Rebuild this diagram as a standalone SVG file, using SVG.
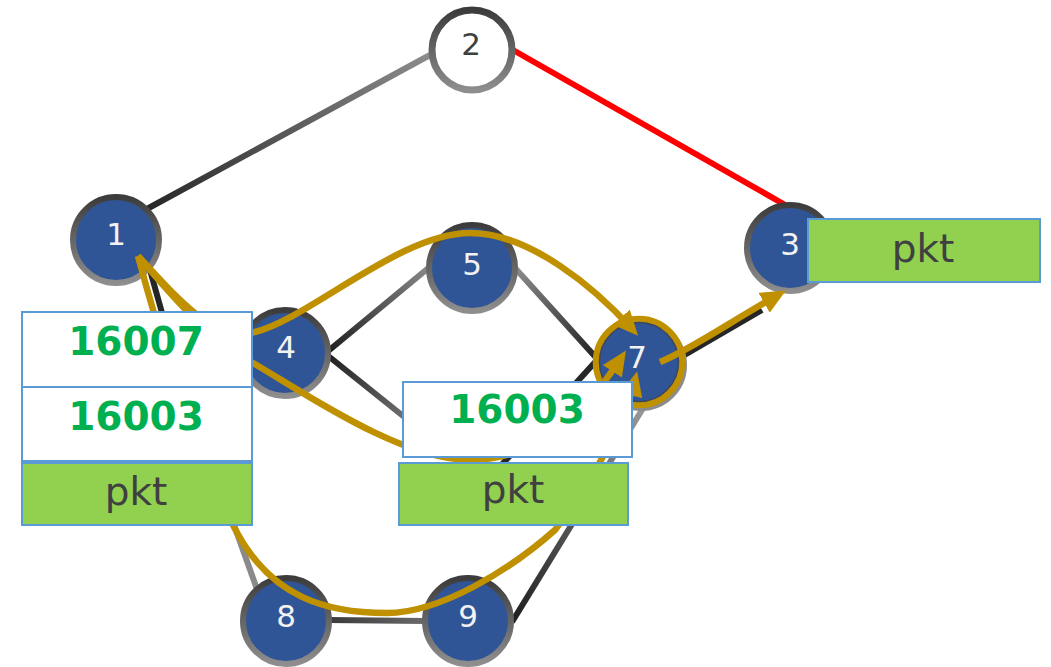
<svg xmlns="http://www.w3.org/2000/svg" width="1051" height="667" viewBox="0 0 1051 667">
<style>
.edge{fill:none;stroke-width:6;stroke-linecap:butt}
.node{fill:#2f5597;stroke:url(#ring);stroke-width:6}
.lbl{font-family:"DejaVu Sans",Verdana,sans-serif;font-size:31px;fill:#f2f2f2;text-anchor:middle}
.gold{fill:none;stroke:#bf9000;stroke-width:6.5}
.box{fill:#fff;stroke:#5b9bd5;stroke-width:2}
.pkt{fill:#92d050;stroke:#5b9bd5;stroke-width:2}
.num{font-family:"DejaVu Sans",Verdana,sans-serif;font-weight:bold;font-size:39px;fill:#00b050;text-anchor:middle}
.ptxt{font-family:"DejaVu Sans",Verdana,sans-serif;font-size:39px;fill:#404040;text-anchor:middle}
</style>
<defs>
<linearGradient id="ring" x1="0" y1="0" x2="0" y2="1">
<stop offset="0" stop-color="#3c3c3c"/>
<stop offset="1" stop-color="#8e8e8e"/>
</linearGradient>
<linearGradient id="g12" gradientUnits="userSpaceOnUse" x1="145" y1="210" x2="430" y2="55">
<stop offset="0" stop-color="#262626"/><stop offset="1" stop-color="#8c8c8c"/>
</linearGradient>
<linearGradient id="g45" gradientUnits="userSpaceOnUse" x1="327" y1="352" x2="432" y2="265">
<stop offset="0" stop-color="#1e1e1e"/><stop offset="1" stop-color="#8c8c8c"/>
</linearGradient>
<linearGradient id="g4x" gradientUnits="userSpaceOnUse" x1="327" y1="355" x2="433" y2="440">
<stop offset="0" stop-color="#1e1e1e"/><stop offset="1" stop-color="#8c8c8c"/>
</linearGradient>
<linearGradient id="g57" gradientUnits="userSpaceOnUse" x1="515" y1="268" x2="600" y2="362">
<stop offset="0" stop-color="#8c8c8c"/><stop offset="1" stop-color="#1e1e1e"/>
</linearGradient>
<linearGradient id="g79" gradientUnits="userSpaceOnUse" x1="645" y1="405" x2="512" y2="622">
<stop offset="0" stop-color="#9a9a9a"/><stop offset="1" stop-color="#1e1e1e"/>
</linearGradient>
<linearGradient id="g89" gradientUnits="userSpaceOnUse" x1="328" y1="620" x2="426" y2="620">
<stop offset="0" stop-color="#3a3a3a"/><stop offset="1" stop-color="#6a6a6a"/>
</linearGradient>
<marker id="ah" markerUnits="userSpaceOnUse" markerWidth="25" markerHeight="23" viewBox="0 0 22 20" refX="14" refY="10" orient="auto">
<path d="M0,0 L22,10 L0,20 z" fill="#bf9000"/>
</marker>
</defs>

<g id="connectors">
<line class="edge" x1="145" y1="210" x2="430" y2="55" stroke="url(#g12)"/>
<line class="edge" x1="513" y1="50" x2="787" y2="206" stroke="#ff0000"/>
<line class="edge" x1="150" y1="270" x2="192" y2="420" stroke="#262626"/>
<line class="edge" x1="200" y1="430" x2="258" y2="592" stroke="#8a8a8a"/>
<line class="edge" x1="327" y1="352" x2="432" y2="265" stroke="url(#g45)"/>
<line class="edge" x1="327" y1="355" x2="433" y2="440" stroke="url(#g4x)"/>
<line class="edge" x1="515" y1="268" x2="600" y2="362" stroke="url(#g57)"/>
<line class="edge" x1="495" y1="472" x2="597" y2="360" stroke="#262626"/>
<line class="edge" x1="645" y1="405" x2="512" y2="622" stroke="url(#g79)"/>
<line class="edge" x1="328" y1="620" x2="426" y2="621" stroke="url(#g89)"/>
<line class="edge" x1="676" y1="360" x2="762" y2="310" stroke="#262626"/>
</g>

<g id="node2"><circle cx="472" cy="50" r="40" fill="#fff" stroke="url(#ring)" stroke-width="7"/><text class="lbl" x="471" y="55" style="fill:#404040">2</text></g>
<g id="node1"><circle class="node" cx="116" cy="240" r="43"/><text class="lbl" x="116" y="245">1</text></g>
<g id="node3"><circle class="node" cx="790" cy="248" r="43"/><text class="lbl" x="790" y="255">3</text></g>
<g id="node4"><circle class="node" cx="285" cy="353" r="43"/><text class="lbl" x="286" y="358">4</text></g>
<g id="node5"><circle class="node" cx="472" cy="268" r="43"/><text class="lbl" x="472" y="275">5</text></g>
<g id="node8"><circle class="node" cx="286" cy="621" r="43"/><text class="lbl" x="286" y="627">8</text></g>
<g id="node9"><circle class="node" cx="468" cy="621" r="43"/><text class="lbl" x="468" y="627">9</text></g>
<g id="node7">
<circle cx="641" cy="365" r="43" fill="none" stroke="#8c8c8c" stroke-width="6"/>
<circle cx="639" cy="362" r="43" fill="#2f5597" stroke="#bf9000" stroke-width="6.5"/>
<circle cx="639" cy="362" r="39.5" fill="none" stroke="#3c4660" stroke-width="1.5"/>
<text class="lbl" x="637" y="368">7</text>
</g>

<g id="paths">
<path class="gold" d="M138,256 C175,295 215,345 255,332 C310,318 400,233 470,233 C530,233 595,288 632,329" marker-end="url(#ah)"/>
<path class="gold" d="M138,256 C175,300 210,340 253,363 C300,390 400,460 470,460 C530,460 578,424 621,358" marker-end="url(#ah)"/>
<path class="gold" d="M138,256 C155,320 190,440 233,525 C270,600 330,613 387,613 C440,613 510,570 555,530 C585,490 622,432 635,380" marker-end="url(#ah)"/>
<path class="gold" d="M660,362 C690,350 730,322 778,295" marker-end="url(#ah)"/>
</g>

<g id="stack-left">
<rect class="box" x="22" y="312" width="230" height="75"/>
<text class="num" x="136" y="355">16007</text>
<rect class="box" x="22" y="387" width="230" height="74"/>
<text class="num" x="136" y="430">16003</text>
<rect class="pkt" x="22" y="463" width="230" height="62"/>
<text class="ptxt" x="136" y="505">pkt</text>
</g>
<g id="stack-mid">
<rect class="box" x="403" y="382" width="229" height="75"/>
<text class="num" x="517" y="423">16003</text>
<rect class="pkt" x="399" y="463" width="229" height="62"/>
<text class="ptxt" x="513" y="503">pkt</text>
</g>
<g id="stack-right">
<rect class="pkt" x="808" y="219" width="232" height="63"/>
<text class="ptxt" x="923" y="262">pkt</text>
</g>
</svg>
